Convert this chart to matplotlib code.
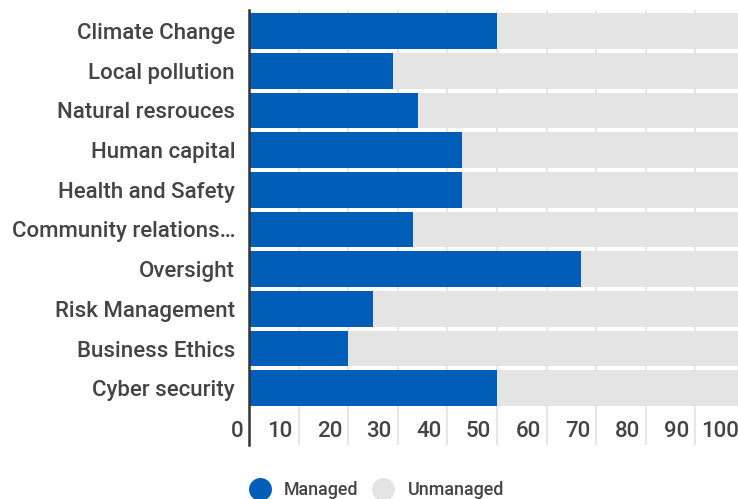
import matplotlib
matplotlib.use("Agg")
import matplotlib.pyplot as plt
from matplotlib.lines import Line2D
import numpy as np

# --- data ---
categories = ["Climate Change", "Local pollution", "Natural resrouces", "Human capital",
              "Health and Safety", "Community relations…", "Oversight", "Risk Management",
              "Business Ethics", "Cyber security"]
managed = [50, 29, 34, 43, 43, 33, 67, 25, 20, 50]
unmanaged = [100 - m for m in managed]
x_ticks = [0, 10, 20, 30, 40, 50, 60, 70, 80, 90, 100]

BLUE = "#005eb8"
GREY = "#e4e4e4"
TEXT = "#444444"

plt.rcParams["font.family"] = ["Roboto", "DejaVu Sans"]

fig = plt.figure(figsize=(7.38, 4.99), dpi=100)
# axes runs past the right edge, like the cropped original
ax = fig.add_axes([249 / 738, 1 - 445 / 499, 496 / 738, 435 / 499])

y = np.arange(len(categories))
ax.barh(y, managed, height=0.9, color=BLUE, zorder=3)
ax.barh(y, unmanaged, left=managed, height=0.9, color=GREY, zorder=3)

ax.set_xlim(0, 100)
ax.set_ylim(10.43, -0.53)

# gridlines
for v in x_ticks[1:]:
    ax.axvline(v, color="#e2e2e2", lw=1.2, zorder=1)

# x labels sit inside the axes, just left of each gridline
off = matplotlib.transforms.offset_copy(ax.transData, fig=fig, x=-6, y=0, units="dots")
for v in x_ticks:
    ax.text(v, 10.1, str(v), ha="right", va="center", fontsize=16,
            fontweight="medium", color=TEXT, transform=off)
ax.set_xticks([])

ax.set_yticks(y)
ax.set_yticklabels(categories, fontsize=16, fontweight="medium", color=TEXT)
ax.tick_params(axis="y", length=0, pad=10)

for s in ["top", "right", "bottom"]:
    ax.spines[s].set_visible(False)
ax.spines["left"].set_color("#333333")
ax.spines["left"].set_linewidth(1.8)
ax.spines["left"].set_zorder(5)

# legend
handles = [Line2D([], [], marker="o", ls="", ms=15.5, color=BLUE, label="Managed"),
           Line2D([], [], marker="o", ls="", ms=15.5, color=GREY, label="Unmanaged")]
fig.legend(handles=handles, loc="center left", bbox_to_anchor=(248 / 738, 1 - 490 / 499),
           ncol=2, frameon=False, handlelength=1.3,
           prop={"size": 12.9, "weight": "medium"}, labelcolor=TEXT,
           handletextpad=0.72, columnspacing=0.72, borderpad=0, borderaxespad=0)

fig.savefig("out.png", dpi=100)
